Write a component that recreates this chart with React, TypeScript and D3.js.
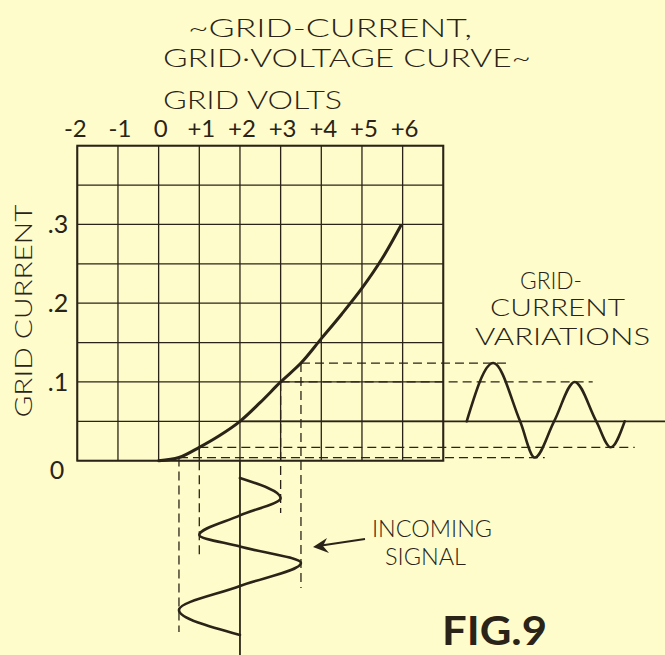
import React from "react";
import * as d3 from "d3";

// ---- data ----
const voltTicks = [-2, -1, 0, 1, 2, 3, 4, 5, 6];
const voltTickLabels = ["-2", "-1", "0", "+1", "+2", "+3", "+4", "+5", "+6"];
const gridVolts = [-2, -1, 0, 1, 2, 3, 4, 5, 6, 7];
const gridCurrents = [0, 0.05, 0.1, 0.15, 0.2, 0.25, 0.3, 0.35, 0.4];
const currentTicks = [0.3, 0.2, 0.1];
const currentTickLabels = [".3", ".2", ".1"];

// grid current vs grid voltage characteristic
const curveVolts = [0, 0.5, 1, 1.5, 2, 2.5, 3, 3.5, 4, 4.5, 5, 5.5, 5.95];
const curveCurrent = [0, 0.004, 0.017, 0.032, 0.05, 0.074, 0.1, 0.124, 0.155, 0.186, 0.219, 0.257, 0.298];

// incoming signal (volts vs time, time runs downward): extremes and centre crossings
const signalTime = [0, 1, 1.87, 2.85, 3.43, 4.25, 5.4, 6.6, 7.85];
const signalVolts = [2, 3, 2, 1, 2, 3.5, 2, 0.5, 2];
const biasVolts = 2;

// grid-current variations (current vs time): extremes and baseline crossings
const outTime = [0, 1.33, 2.67, 3.4, 4.37, 5.4, 6.48, 7.2, 7.9];
const outCurrent = [0.05, 0.124, 0.05, 0.004, 0.05, 0.1, 0.05, 0.017, 0.05];
const biasCurrent = 0.05;

// projection lines: volts, current level, how far down (signal time), how far right (output time)
const projVolts = [3.5, 3, 1, 0.5];
const projCurrent = [0.124, 0.1, 0.017, 0.004];
const projDownTime = [5.5, 1.75, 4, 7.7];
const projRightTime = [2.17, 6.3, 8.4, 3.9];

const INK = "#2a2318";
const BG = "#fefcca";
const FONT = "Lato, 'Liberation Sans', 'DejaVu Sans', sans-serif";
const FW = 400;

export default function App() {
  const W = 665, H = 655;
  const x = d3.scaleLinear().domain([-2, 7]).range([77.3, 443.3]);
  const y = d3.scaleLinear().domain([0, 0.4]).range([460.7, 145.7]);
  const tIn = d3.scaleLinear().domain([0, 10]).range([478, 678]);
  const tOut = d3.scaleLinear().domain([0, 10]).range([466.7, 666.7]);

  const charLine = d3
    .line<number>()
    .x((_, i) => x(curveVolts[i]))
    .y((_, i) => y(curveCurrent[i]))
    .curve(d3.curveCatmullRom.alpha(0.5));

  const sigLine = d3
    .line<number>()
    .x((_, i) => x(signalVolts[i]))
    .y((_, i) => tIn(signalTime[i]))
    .curve(d3.curveMonotoneY);

  const outLine = d3
    .line<number>()
    .x((_, i) => tOut(outTime[i]))
    .y((_, i) => y(outCurrent[i]))
    .curve(d3.curveMonotoneX);

  const dash = "9 5";

  return (
    <svg
      width={W}
      height={H}
      viewBox={`0 0 ${W} ${H}`}
      style={{ position: "absolute", left: 0, top: 0, display: "block", background: BG }}
    >
      <rect x={0} y={0} width={W} height={H} fill={BG} />

      {/* Titles */}
      <g fill={INK} fontFamily={FONT} fontWeight={300}>
        <text x={188} y={37} fontSize={26} textLength={284} lengthAdjust="spacingAndGlyphs">~GRID-CURRENT,</text>
        <text x={163} y={66.5} fontSize={26} textLength={368} lengthAdjust="spacingAndGlyphs">GRID·VOLTAGE CURVE~</text>
        <text x={163} y={109} fontSize={25} textLength={179} lengthAdjust="spacingAndGlyphs">GRID VOLTS</text>
      </g>

      {/* volt tick labels */}
      <g fill={INK} fontFamily={FONT} fontWeight={FW} fontSize={24} textAnchor="middle">
        {voltTicks.map((v, i) => (
          <text key={v} x={x(v) + (i === 0 ? -2 : 2)} y={137}>{voltTickLabels[i]}</text>
        ))}
      </g>

      {/* current tick labels */}
      <g fill={INK} fontFamily={FONT} fontWeight={FW} fontSize={25} textAnchor="middle">
        {currentTicks.map((c, i) => (
          <text key={c} x={58} y={y(c) + 9}>{currentTickLabels[i]}</text>
        ))}
        <text x={57} y={y(0) + 18}>0</text>
      </g>

      {/* y-axis title */}
      <text
        transform={`translate(32, 311) rotate(-90)`}
        fill={INK}
        fontFamily={FONT}
        fontWeight={300}
        fontSize={24}
        textAnchor="middle"
        textLength={213}
        lengthAdjust="spacingAndGlyphs"
      >
        GRID CURRENT
      </text>

      {/* grid */}
      <g stroke={INK} strokeWidth={1.3}>
        {gridVolts.map((v) => (
          <line key={"v" + v} x1={x(v)} x2={x(v)} y1={y(0.4)} y2={y(0)} />
        ))}
        {gridCurrents.map((c) => (
          <line key={"h" + c} x1={x(-2)} x2={x(7)} y1={y(c)} y2={y(c)} />
        ))}
      </g>
      <rect
        x={x(-2)}
        y={y(0.4)}
        width={x(7) - x(-2)}
        height={y(0) - y(0.4)}
        fill="none"
        stroke={INK}
        strokeWidth={2}
      />

      {/* projection lines */}
      <g stroke={INK} strokeWidth={1.3} strokeDasharray={dash} fill="none">
        {projVolts.map((v, i) => (
          <line key={"pd" + i} x1={x(v)} x2={x(v)} y1={y(projCurrent[i])} y2={tIn(projDownTime[i])} />
        ))}
        {projVolts.map((v, i) => (
          <line key={"pr" + i} x1={x(v)} x2={tOut(projRightTime[i])} y1={y(projCurrent[i])} y2={y(projCurrent[i])} />
        ))}
      </g>

      {/* bias lines */}
      <g stroke={INK} strokeWidth={1.8}>
        <line x1={x(biasVolts)} x2={x(biasVolts)} y1={y(0)} y2={H} />
        <line x1={x(biasVolts)} x2={tOut(10)} y1={y(biasCurrent)} y2={y(biasCurrent)} />
      </g>

      {/* characteristic curve */}
      <path d={charLine(curveVolts) || ""} fill="none" stroke={INK} strokeWidth={3} strokeLinecap="round" />

      {/* incoming signal */}
      <path d={sigLine(signalTime) || ""} fill="none" stroke={INK} strokeWidth={2.6} strokeLinecap="round" />

      {/* grid current variations */}
      <path d={outLine(outTime) || ""} fill="none" stroke={INK} strokeWidth={2.6} strokeLinecap="round" />

      {/* right labels */}
      <g fill={INK} fontFamily={FONT} fontWeight={300} fontSize={23} textAnchor="middle">
        <text x={551} y={289} textLength={62} lengthAdjust="spacingAndGlyphs">GRID-</text>
        <text x={557.5} y={316} textLength={135} lengthAdjust="spacingAndGlyphs">CURRENT</text>
        <text x={562.5} y={345} textLength={175} lengthAdjust="spacingAndGlyphs">VARIATIONS</text>
      </g>

      {/* incoming signal label + arrow */}
      <g fill={INK} fontFamily={FONT} fontWeight={300} fontSize={24}>
        <text x={372} y={537} textLength={120} lengthAdjust="spacingAndGlyphs">INCOMING</text>
        <text x={385} y={565} textLength={81} lengthAdjust="spacingAndGlyphs">SIGNAL</text>
      </g>
      <line x1={365} y1={539} x2={318} y2={546} stroke={INK} strokeWidth={1.8} />
      <path d="M313,547 L327,538 L323,546 L329,553 Z" fill={INK} />

      {/* figure label */}
      <text
        x={442}
        y={645}
        fill={INK}
        fontFamily={FONT}
        fontSize={41}
        fontWeight="bold"
        textLength={105}
        lengthAdjust="spacingAndGlyphs"
      >
        FIG.9
      </text>
    </svg>
  );
}
